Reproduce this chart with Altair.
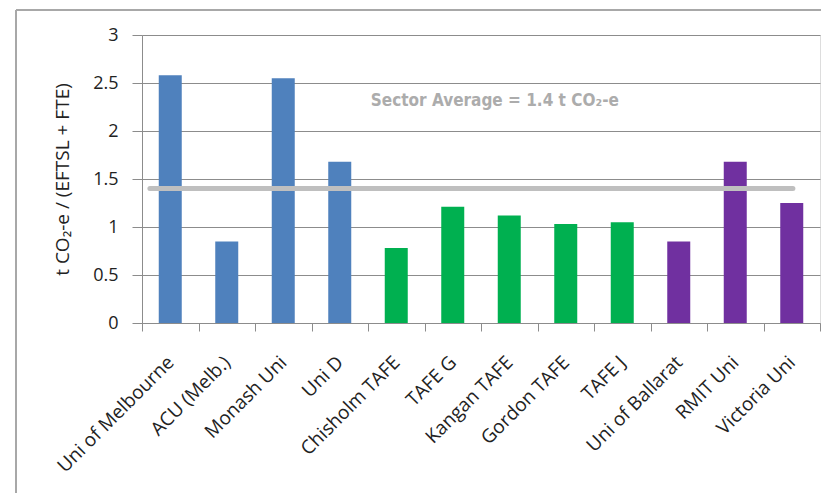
import altair as alt
import pandas as pd

categories = ["Uni of Melbourne", "ACU (Melb.)", "Monash Uni", "Uni D", "Chisholm TAFE",
              "TAFE G", "Kangan TAFE", "Gordon TAFE", "TAFE J", "Uni of Ballarat",
              "RMIT Uni", "Victoria Uni"]
values = [2.58, 0.85, 2.55, 1.68, 0.78, 1.21, 1.12, 1.03, 1.05, 0.85, 1.68, 1.25]
groups = ["Uni", "Uni", "Uni", "Uni", "TAFE", "TAFE", "TAFE", "TAFE", "TAFE",
          "Dual", "Dual", "Dual"]
group_names = ["Uni", "TAFE", "Dual"]
group_colors = ["#4F81BD", "#00B050", "#7030A0"]

sector_average = 1.4
avg_label = "Sector Average = 1.4 t CO\u2082-e"
y_title = "t CO\u2082-e / (EFTSL + FTE)"
y_ticks = [0, 0.5, 1, 1.5, 2, 2.5, 3]

# positions of the average line / label on a 0..12 category index scale
avg_start, avg_end = 0.14, 11.52
label_pos, label_y = 4.05, 2.31

W, H = 678, 288
FONT = "Open Sans"
GRAY = "#8c8c8c"

df = pd.DataFrame({"cat": categories, "value": values, "group": groups})

bars = alt.Chart(df).mark_bar(size=23).encode(
    x=alt.X("cat:N", sort=categories,
            scale=alt.Scale(paddingInner=0, paddingOuter=0),
            axis=alt.Axis(title=None, labelAngle=-45, labelAlign="right",
                          labelBaseline="middle", labelPadding=28, tickSize=8,
                          tickBand="extent", labelFontSize=19, labelFont=FONT,
                          labelColor="#222222", domainColor=GRAY, tickColor=GRAY,
                          labelOverlap=False, grid=False, labelLimit=300)),
    y=alt.Y("value:Q", scale=alt.Scale(domain=[0, 3], nice=False),
            axis=alt.Axis(values=y_ticks, format="~g", title=y_title, titleFont=FONT,
                          titleFontSize=19, titleFontWeight="normal",
                          titleColor="#222222", titleX=-80, titleY=H / 2,
                          titleAngle=-90, titleBaseline="middle", titleAlign="center",
                          labelFont=FONT, labelFontSize=18, labelColor="#222222",
                          labelPadding=14, tickSize=10, tickColor=GRAY,
                          domainColor=GRAY, gridColor=GRAY, gridWidth=1)),
    color=alt.Color("group:N", scale=alt.Scale(domain=group_names, range=group_colors),
                    legend=None),
)

avg_df = pd.DataFrame({"x": [avg_start], "x2": [avg_end], "y": [sector_average]})
avg_line = alt.Chart(avg_df).mark_rule(color="#bfbfbf", strokeWidth=5, strokeCap="round").encode(
    x=alt.X("x:Q", scale=alt.Scale(domain=[0, len(categories)], nice=False, zero=False), axis=None),
    x2="x2:Q",
    y=alt.Y("y:Q"),
)

lab_df = pd.DataFrame({"x": [label_pos], "y": [label_y], "t": [avg_label]})
avg_text = alt.Chart(lab_df).mark_text(
    align="left", baseline="middle", font="DejaVu Sans Condensed", fontSize=17,
    fontWeight="bold", color="#acacac"
).encode(
    x=alt.X("x:Q", scale=alt.Scale(domain=[0, len(categories)], nice=False, zero=False), axis=None),
    y=alt.Y("y:Q"),
    text="t:N",
)

frame_df = pd.DataFrame({"a": [0]})
frame_left = alt.Chart(frame_df).mark_rule(color="#a8a8a8", strokeWidth=2).encode(
    x=alt.value(-126), y=alt.value(-25), y2=alt.value(480))
frame_top = alt.Chart(frame_df).mark_rule(color="#a8a8a8", strokeWidth=2).encode(
    x=alt.value(-126), x2=alt.value(700), y=alt.value(-25))

chart = alt.layer(bars, avg_line, avg_text, frame_left, frame_top).resolve_scale(
    x="independent"
).properties(
    width=W, height=H,
    autosize=alt.AutoSizeParams(type="none"),
    padding={"left": 134, "top": 27, "right": 1, "bottom": 170},
).configure_view(stroke=None).configure(background="white")

chart.save("out.html", embed_options={"renderer": "svg", "actions": False})
